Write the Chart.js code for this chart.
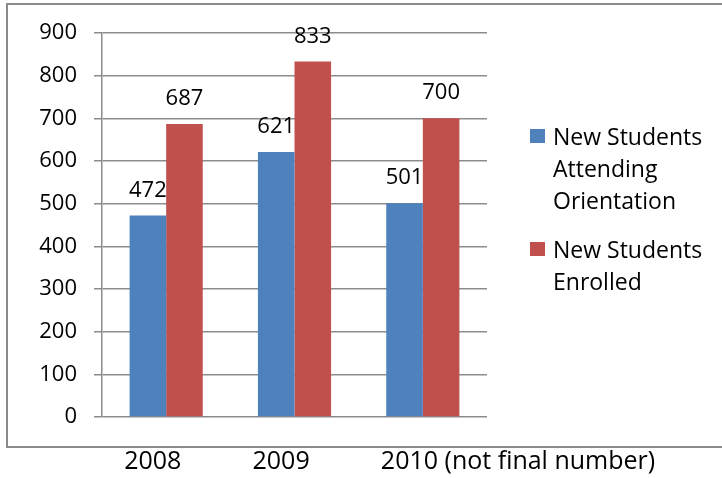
<!DOCTYPE html>
<html>
<head>
<meta charset="utf-8">
<script src="https://cdn.jsdelivr.net/npm/chart.js@4.4.1/dist/chart.umd.min.js"></script>
<style>
    body { margin: 0; background: #fff; }
    canvas { display: block; }
</style>
</head>
<body>
<canvas id="chart" width="722" height="478"></canvas>
<script>
// values
const years = ["2008", "2009", "2010 (not final number)"];
const attending = [472, 621, 501];
const enrolled = [687, 833, 700];
const seriesNames = ["New Students Attending Orientation", "New Students Enrolled"];
const seriesColors = ["#4F81BD", "#C0504D"];

const fontName = "'Open Sans', 'Liberation Sans', sans-serif";

// grey frame round the chart (right side runs off the page)
const framePlugin = {
    id: "frame",
    beforeDraw(chart) {
        let ctx = chart.ctx;
        ctx.save();
        ctx.strokeStyle = "#8a8a8a";
        ctx.lineWidth = 2;
        ctx.strokeRect(7, 4, 730, 443);
        ctx.restore();
    }
};

// value on top of every bar
const valuePlugin = {
    id: "values",
    afterDatasetsDraw(chart) {
        let ctx = chart.ctx;
        ctx.save();
        ctx.font = "22px " + fontName;
        ctx.fillStyle = "#000";
        ctx.textAlign = "center";
        ctx.textBaseline = "alphabetic";
        chart.data.datasets.forEach((ds, i) => {
            let meta = chart.getDatasetMeta(i);
            meta.data.forEach((bar, j) => {
                ctx.fillText(ds.data[j], bar.x, bar.y - 19);
            });
        });
        ctx.restore();
    }
};

// legend on the right, wrapped like the original
const legendPlugin = {
    id: "sideLegend",
    afterDraw(chart) {
        let ctx = chart.ctx;
        ctx.save();
        ctx.font = "23px " + fontName;
        ctx.textBaseline = "alphabetic";
        let x = chart.chartArea.right + 43;
        let y = 145;
        let lineH = 32;
        chart.data.datasets.forEach(ds => {
            let words = ds.label.split(" ");
            let lines = [];
            let cur = "";
            for (let w of words) {
                let test = cur ? cur + " " + w : w;
                if (cur && ctx.measureText(test).width > 160) {
                    lines.push(cur);
                    cur = w;
                } else {
                    cur = test;
                }
            }
            lines.push(cur);
            ctx.fillStyle = ds.backgroundColor;
            ctx.fillRect(x, y - 16, 15, 14);
            ctx.fillStyle = "#000";
            lines.forEach((l, k) => ctx.fillText(l, x + 23, y + k * lineH));
            y += lines.length * lineH + 17;
        });
        ctx.restore();
    }
};

const data = {
    labels: years,
    datasets: [
        {label: seriesNames[0], data: attending, backgroundColor: seriesColors[0]},
        {label: seriesNames[1], data: enrolled, backgroundColor: seriesColors[1]}
    ]
};

const config = {
    type: "bar",
    data: data,
    options: {
        responsive: false,
        animation: false,
        devicePixelRatio: 1,
        layout: {padding: {top: 33, right: 235, bottom: 0, left: 0}},
        datasets: {bar: {barPercentage: 1, categoryPercentage: 0.57}},
        plugins: {legend: {display: false}, tooltip: {enabled: false}},
        scales: {
            x: {
                grid: {display: false, drawTicks: false},
                border: {display: false},
                ticks: {
                    color: "#000",
                    font: {family: fontName, size: 25},
                    align: "start",
                    labelOffset: -42,
                    padding: 30,
                    maxRotation: 0,
                    autoSkip: false
                },
                afterFit(scale) {
                    scale.height = 61;
                    // long last label must not squeeze the plot
                    scale.paddingLeft = 0;
                    scale.paddingRight = 0;
                }
            },
            y: {
                min: 0,
                max: 900,
                grid: {color: "#8c8c8c", lineWidth: 1.5, tickLength: 8},
                border: {color: "#8c8c8c", width: 1.5},
                ticks: {
                    stepSize: 100,
                    color: "#000",
                    font: {family: fontName, size: 22},
                    padding: 17
                },
                afterFit(scale) {
                    scale.width = 102;
                    scale.paddingTop = 0;
                    scale.paddingBottom = 0;
                }
            }
        }
    },
    plugins: [framePlugin, valuePlugin, legendPlugin]
};

let myChart = new Chart(document.getElementById("chart"), config);
</script>
</body>
</html>
